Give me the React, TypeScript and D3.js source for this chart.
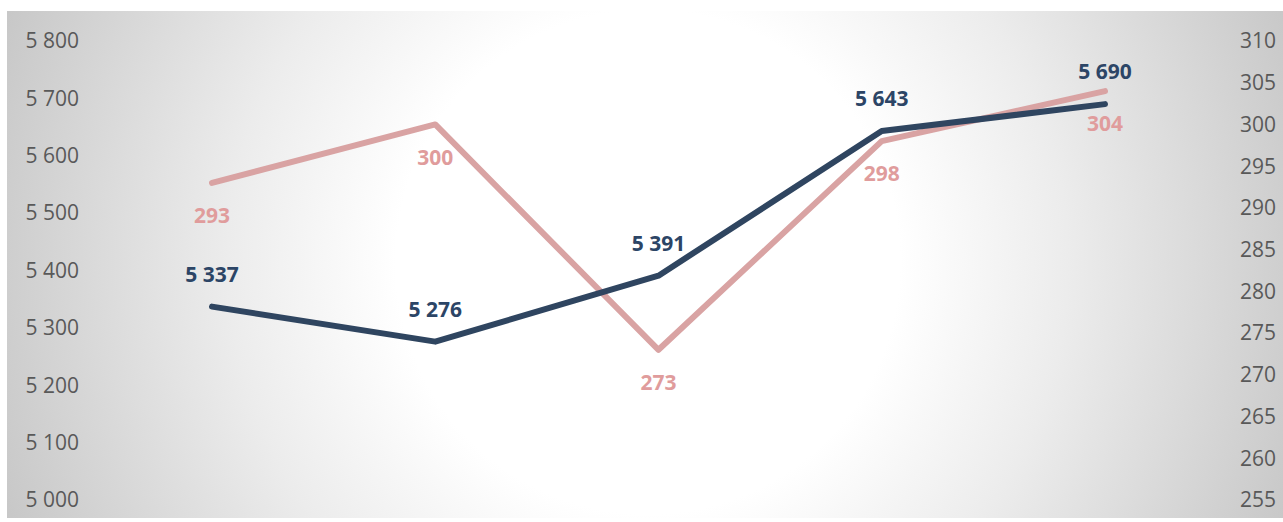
import React from "react";
import * as d3 from "d3";

const categories = ["A", "B", "C", "D", "E"];
const seriesNavy = [5337, 5276, 5391, 5643, 5690];
const seriesPink = [293, 300, 273, 298, 304];
const leftTicks = [5000, 5100, 5200, 5300, 5400, 5500, 5600, 5700, 5800];
const rightTicks = [255, 260, 265, 270, 275, 280, 285, 290, 295, 300, 305, 310];

const W = 1283;
const H = 522;
const fmt = (v: number) => d3.format(",")(v).replace(/,/g, " ");

export default function App() {
  const x = d3.scalePoint<string>().domain(categories).range([212, 1105]);
  const yL = d3.scaleLinear().domain([5000, 5800]).range([500, 41]);
  const yR = d3.scaleLinear().domain([255, 310]).range([500, 41]);
  const lineL = d3
    .line<number>()
    .x((_, i) => x(categories[i]) as number)
    .y((d) => yL(d));
  const lineR = d3
    .line<number>()
    .x((_, i) => x(categories[i]) as number)
    .y((d) => yR(d));
  const font = "'Open Sans', 'Noto Sans', sans-serif";
  return (
    <svg
      width={W}
      height={H}
      style={{ position: "absolute", left: 0, top: 0 }}
      fontFamily={font}
    >
      <defs>
        <radialGradient
          id="bg"
          gradientUnits="userSpaceOnUse"
          cx={648}
          cy={262}
          r={700}
        >
          <stop offset="0" stopColor="#ffffff" />
          <stop offset="0.36" stopColor="#ffffff" />
          <stop offset="0.6" stopColor="#ececec" />
          <stop offset="1" stopColor="#c6c6c6" />
        </radialGradient>
      </defs>
      <rect x={0} y={0} width={W} height={H} fill="#ffffff" />
      <rect x={7} y={11} width={W - 7} height={507} fill="url(#bg)" />
      {leftTicks.map((t) => (
        <text
          key={"l" + t}
          x={79}
          y={yL(t)}
          dy="0.35em"
          textAnchor="end"
          fontSize={21}
          fill="#595959"
        >
          {fmt(t)}
        </text>
      ))}
      {rightTicks.map((t) => (
        <text
          key={"r" + t}
          x={1276}
          y={yR(t)}
          dy="0.35em"
          textAnchor="end"
          fontSize={21}
          fill="#595959"
        >
          {t}
        </text>
      ))}
      <path
        d={lineR(seriesPink) || ""}
        fill="none"
        stroke="#d9a3a3"
        strokeWidth={6}
        strokeLinecap="round"
        strokeLinejoin="round"
      />
      <path
        d={lineL(seriesNavy) || ""}
        fill="none"
        stroke="#2f4560"
        strokeWidth={6}
        strokeLinecap="round"
        strokeLinejoin="round"
      />
      {seriesNavy.map((v, i) => (
        <text
          key={"nl" + i}
          x={x(categories[i])}
          y={yL(v) - 32}
          dy="0.35em"
          textAnchor="middle"
          fontSize={21}
          fontWeight="bold"
          fill="#2c4566"
        >
          {fmt(v)}
        </text>
      ))}
      {seriesPink.map((v, i) => (
        <text
          key={"pl" + i}
          x={x(categories[i])}
          y={yR(v) + 33}
          dy="0.35em"
          textAnchor="middle"
          fontSize={21}
          fontWeight="bold"
          fill="#e09c9c"
        >
          {v}
        </text>
      ))}
    </svg>
  );
}
